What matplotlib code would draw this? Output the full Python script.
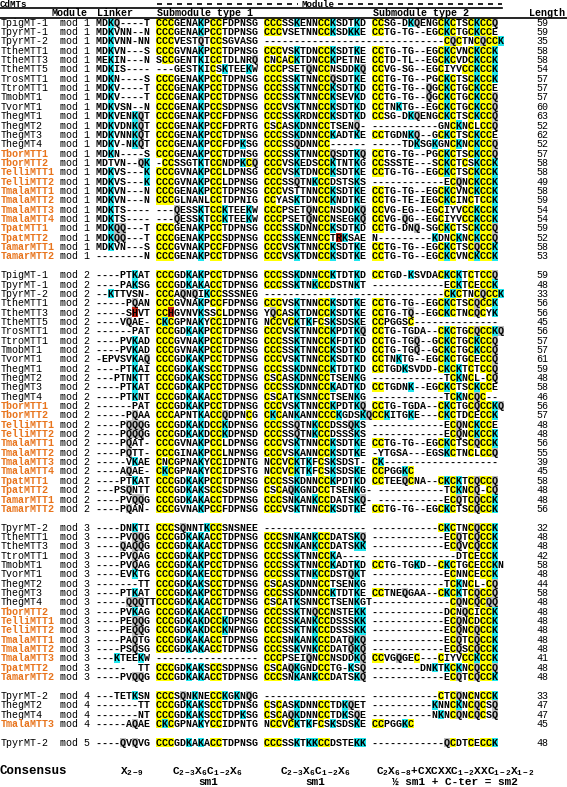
import matplotlib
matplotlib.use("Agg")
import matplotlib.pyplot as plt
from matplotlib.patches import Rectangle

# aligned rows: linker | submodule type 1 (two halves) | submodule type 2
# lowercase letter = residue marked in red
names_mod1 = ["TpigMT-1", "TpyrMT-1", "TpyrMT-2", "TtheMTT1", "TtheMTT3", "TtheMTT5",
              "TrosMTT1", "TtroMTT1", "TmobMT1", "TvorMT1", "ThegMT1", "ThegMT2",
              "ThegMT3", "ThegMT4", "TborMTT1", "TborMTT2", "TelliMTT1", "TelliMTT2",
              "TmalaMTT1", "TmalaMTT2", "TmalaMTT3", "TmalaMTT4", "TpatMTT1", "TpatMTT2",
              "TamarMTT1", "TamarMTT2"]
seqs_mod1 = [
    "MDKQ----T CCCGENAKPCCFDPNSG CCCSSKENNCCKSDTKD CCSG-DKQENGCKCTSCKCCQ",
    "MDKVNN--N CCCGENAKPCCTDPNSG CCCVSETNNCCKSDKKE CCTG-TG--EGCKCTGCKCCE",
    "MDKVNN-NN CCCVESTQTCCSGVASG ------------------------------CQCTNCQCCK",
    "MDKVN---S CCCGVNAKPCCTDPNSG CCCVSKTDNCCKSDTKE CCTG-TG--EGCKCVNCKCCK",
    "MEKIN---N SCCGENTKICCTDLNRQ CNCACKTDNCCKPETNE CCTD-TL--EGCKCVDCKCCK",
    "MDKIS---- ---GESTKICSKTEEKW CCCPSETQNCCNSDDKQ CCVG-SG--EGCIYVCCKCCK",
    "MDKN----S CCCGENAKPCCTDPNSG CCCSSKTNNCCQSDTKE CCTG-TG--PGCKCTSCKCCK",
    "MDKV----T CCCGENAKPCCTDPNSG CCCSSKTNNCCKSDTKD CCTG-TG--QGCKCTGCKCCE",
    "MDKV----T CCCGENAKPCCTDPNSG CCCSSKTNNCCKSEVKD CCTG-TG--QGCKCTGCKCCQ",
    "MDKVSN--N CCCGENAKPCCSDPNSG CCCVSKTNNCCKSDTKD CCTNKTG--EGCKCTGCKCCQ",
    "MDKVENKQT CCCGENAKPCCFDPNSG CCCSSKRDNCCKSDTKD CCSG-DKQENGCKCTSCKCCQ",
    "MDKVDNKQT CCCGENAKPCCFDPRTG CSCASKDNNCCTSENQ- -----------GNCKNCLCCQ",
    "MDKVNNKQT CCCGENAKPCCTDPNSG CCCSSKDNNCCKADTKE CCTGDNKQ--GCKCTSCKCCE",
    "MDKV-NKQT CCCGENAKPCCFDPKSG CCCSSQDNNCC------ -----TDKSGKGNCKNCKCCQ",
    "MDKN----S CCCGENAKPCCTDPNSG CCCSSKTNNCCQSDTKQ CCTG-TG--PGCKCTSCKCCQ",
    "MDTVN--QK -CCSSGTKTCCNDPKCQ CCCVSKEDSCCKTNTKG CCSSSTE---SCKCTCSKCCK",
    "MDKVS---K CCCGVNAKPCCLDPNSG CCCVSKTDNCCKSDTKE CCTG-TG--EGCKCTSCKCCK",
    "MDKVS---K CCCGVNAKPCCLDPNSG CCCSSQTNKCCDSTSKS ------------ECQNCKCCK",
    "MDKVN---N CCCGENAKPCCTDPNSG CCCVSTTNNCCKSDTKE CCTG-TG--EGCKCVNCKCCK",
    "MDKVN---N CCCGLNANLCCTDPNIG CCYASKTDNCCKNDTKE CCTG-TE-IEGCKCINCTCCK",
    "MDKTS---- ---QESSKTCCKTEEKW CCCPSETQNCCNSDDKQ CCVG-EG--EGCIYVCCKCCK",
    "MDKTS---- ---QESSKTCCKTEEKW CCCPSETQNCCNSEGKQ CCVG-QG--EGCIYVCCKCCK",
    "MDKQQ---T CCCGENAKPCCTDPNSG CCCSSKDNNCCKSDTKD CCTG-DNQ-SGCKCTSCKCCQ",
    "MDKQQ---T CCCGENAKPCCSDPNSG CCCSSKENNCCTrKSAE N---------KDNCKNCKCCQ",
    "MDKVN---S CCCGVNAKPCCFDPNSG CCCVSKTNNCCKSDTKE CCTG-TG--EGCKCTSCQCCK",
    "--------N CCCGENAKPCCTDPNSG CCCVSKTDNCCKSDTKE CCTG-TG--EGCKCVNCKCCK",
]
lengths_mod1 = [59, 59, 35, 58, 58, 54, 57, 57, 57, 60, 63, 52, 62, 52, 57, 58, 58, 49,
                58, 59, 54, 54, 59, 52, 58, 53]

names_mod2 = list(names_mod1)
seqs_mod2 = [
    "----PTKAT CCCGDKAKPCCTDPNSG CCCSSKDNNCCKTDTKD CCTGD-KSVDACKCKTCTCCQ",
    "----PAKSG CCCGDKAKACCTDPNSG CCCSSKTNKCCDSTNKT ------------ECKTCECCK",
    "--KTTVSN- CCCAQNQIKCCSSSNEG ------------------------------CKCTNCQCCK",
    "-----PQAN CCCGVNAKPCCFDPNSG CCCVSKTNNCCKSDTKE CCTG-TG--EGCKCTSCQCCK",
    "-----ShVT CChGVNVKSSCLDPNSG YQCASKTDNCCKSDTKE CCTG-TQ--EGCKCTNCQCYK",
    "----VQAE- CKCGPNAKYCCIDPNTG NCCVCKTKFCSKSDSKE CCPGGSC--------------",
    "------PAT CCCGDKAKPCCTDPNSG CCCVSKTNNCCKPDTKQ CCTG-TGDA--CKCTGCQCCKQ",
    "----PVKAD CCCGVNAKPCCTDPNSG CCCSSKTNNCCKFDTKD CCTG-TGQ--GCKCTGCKCCQ",
    "----PVKAD CCCGVNAKPCCTDPNSG CCCSSKTNNCCKSDTKD CCTG-TGQ--GCKCTGCKCCQ",
    "-EPVSVKAQ CCCGDKAKPCCTDPNSG CCCVSKTNNCCKSDTKD CCTNKTG--EGCKCTGCECCQ",
    "----PTKAI CCCGDKAKSCCTDPNSG CCCSSKDNNCCKTDTKD CCTGDKSVDD-CKCKTCTCCQ",
    "---PTNKTT CCCGDKAKSCCTDPNSG CSCASKDNNCCTSENKG ------------TCKNCL-CQ",
    "----PTKAT CCCGDKAKPCCTDPNSG CCCSSKDNNCCKADTKD CCTGDNK--EGCKCTSCKCCE",
    "----PTKNT CCCGDKAKACCTDPNSG CSCATKSNNCCTSENKG ------------TCKNCQC--",
    "------PAT CCCGDKAKPCCTDPNSG CCCVSKTNNCCKPDTKQ CCTG-TGDA--CKCTGCQCCKQ",
    "-----PQAA CCCAPNTKACCQDPNCG CKCANKANNCCCKGDSKQCCKITGKE---CKCTDCECCK",
    "----PQQQG CCCGDKAKDCCKDPNSG CCCSSQTNKCCDSSQKS ------------ECQNCKCCE",
    "----PQQQG CCCGDKAKDCCKDPNSD CCCSSQTNKCCDSSSKS ------------ECQNCKCCK",
    "----PQAT- CCCGVNAKPCCLDPNSG CCCVSKTNNCCKSDTKE CCTG-TG--EGCKCTSCQCCK",
    "----PQTT- CCCGINAKPCCLNPNSG CCCVSKANNCCKSDTKE -YTGSA---EGSKCTNCLCCQ",
    "-----VKAE CNCGPNAKYCCIDPNTG NCCVCKTKFCSKSDST- CK-------------------",
    "----AQAE- CKCGPNAKYCCIDPSTG NCCVCKTKFCSKSDSKE CCPGGKC",
    "----PTKAT CCCGDKAKPCCTDPNSG CCCSSKDNNCCKPDTKD CCTEEQCNA--CKCKTCQCCQ",
    "---PSQNTT CCCGDKAKSCCSDPNSG CSCAQKGNDCCTSENKG- -----------TCKNCQ-CQ",
    "----PVQQG CCCGDKAKACCTDPNSG CCCSNKANKCCDATSKQ- -----------ECQTCQCCK",
    "----PQAN- CCCGVNAKPCCFDPNSG CCCVSKTNNCCKSDTKE CCTG-TG--EGCKCTSCQCCK",
]
lengths_mod2 = [59, 48, 33, 56, 56, 45, 56, 57, 57, 61, 59, 48, 58, 46, 56, 57, 48, 48,
                56, 55, 39, 45, 58, 48, 48, 56]

names_mod3 = ["TpyrMT-2", "TtheMTT1", "TtheMTT3", "TtroMTT1", "TmobMT1", "TvorMT1",
              "ThegMT2", "ThegMT3", "ThegMT4", "TborMTT2", "TelliMTT1", "TelliMTT2",
              "TmalaMTT1", "TmalaMTT2", "TmalaMTT3", "TpatMTT2", "TamarMTT2"]
seqs_mod3 = [
    "----DNKTI CCCSQNNTKCCSNSNEE ----------------- -----------CKCTNCQCCK",
    "----PVQQG CCCGDKAKACCTDPNSG CCCSNKANKCCDATSKQ ------------ECQTCQCCK",
    "----QAQQG CCCGDKAKACCTDPNSG CCCSNKANKCCDATSKK ------------ECQVCQCCK",
    "----PVQAG CCCGDKAKPCCTDPNSG CCCSSKTNNCCKA---- --------------DTCECCK",
    "----PVQAG CCCGDKAKPCCTDPNSG CCCSSKTNNCCKADTKD CCTG-TGKD--CKCTGCECCKN",
    "----EVKTG CCCGDKAKECCTDPNSG CCCSSKTNKCCDSTQKT ------------ECNNCECCK",
    "-------TT CCCGDKAKSCCTDPNSG CSCASKDNNCCTSENKG ------------TCKNCL-CQ",
    "----PTKAT CCCGDKAKPCCTDPNSG CCCSSKDNNCCKTDTKE CCTNEQGAA--CKCKTCQCCQ",
    "-----QQQTTCCCGDKAKACCTDPNSG CSCATKSNNCCTSENKGT-------------CQNCQCQQ",
    "----PVKAG CCCGDKAKACCTDPNSG CCCSSKTNQCCNSTEKK ------------DCNQCICCK",
    "----PEQQG CCCGDKAKDCCKDPNSG CCCSSKANKCCDSSSKK ------------ECQNCDCCK",
    "----PEQQG CCCGDKAKDCCKNPNGG CCCSSKTNKCCDSSSKK ------------ECQNCQCCK",
    "----PAQTG CCCGDKAKACCTDPNSG CCCSNKANKCCDATQKQ ------------ECQTCQCCK",
    "----PSQSG CCCGDKAKACCTDPNSG CCCSSKVNKCCDATQKQ ------------ECQSCQCCK",
    "---KTEEKW ----------------- CCCPSEIQNCCNSDDKQ CCVGQGEC---CIYVCCKCCK",
    "-----  TT CCCGDKAKSCCSDPNSG CSCAQKGNDCCTG-KSQ --------DNKTKCKNCQCCQ",
    "----PVQQG CCCGDKAKACCTDPNSG CCCSNKANKCCDATSKQ ------------ECQTCQCCK",
]
lengths_mod3 = [32, 48, 48, 42, 58, 48, 44, 58, 48, 48, 48, 48, 48, 48, 41, 48, 48]

names_mod4 = ["TpyrMT-2", "ThegMT2", "ThegMT4", "TmalaMTT3"]
seqs_mod4 = [
    "---TETKSN CCCSQNKNECCKGKNQG ----------------- -----------CTCQNCNCCK",
    "-------TT CCCGDKAKSCCTDPNSG CSCASKDNNCCTDKQET ----------KNNCKNCQCSQ",
    "-------NT CCCGDKAKSCCTDPKSG CSCAQKDNNCCTDKSQE ----------NKNCQNCQCSQ",
    "-----AQAE CKCGPNAKYCCIDPNTG NCCVCKTKFCSKSDSKE CCPGGKC",
]
lengths_mod4 = [33, 47, 47, 45]

names_mod5 = ["TpyrMT-2"]
seqs_mod5 = ["----QVQVG CCCGDKAKACCTDPNSG CCCSSKTKKCCDSTEKK ------------QCDTCECCK"]
lengths_mod5 = [48]

blocks = [(1, names_mod1, seqs_mod1, lengths_mod1),
          (2, names_mod2, seqs_mod2, lengths_mod2),
          (3, names_mod3, seqs_mod3, lengths_mod3),
          (4, names_mod4, seqs_mod4, lengths_mod4),
          (5, names_mod5, seqs_mod5, lengths_mod5)]

ORANGE_NAMES = ("Tbor", "Telli", "Tmala", "Tpat", "Tamar")
SHADE = {"C": "#ffff00", "K": "#1ee6ee", "Q": "#bdbdbd"}
RED = "#c42010"
ORANGE = "#e8741c"

plt.rcParams["mathtext.fontset"] = "custom"
plt.rcParams["mathtext.rm"] = "Liberation Mono:bold"
plt.rcParams["mathtext.it"] = "Liberation Mono:bold"
plt.rcParams["mathtext.bf"] = "Liberation Mono:bold"

W, H = 567, 787
fig = plt.figure(figsize=(W / 100, H / 100), dpi=100)
ax = fig.add_axes([0, 0, 1, 1])
ax.set_xlim(0, W)
ax.set_ylim(H, 0)
ax.axis("off")

FONT = "Liberation Mono"
FS = 7.2          # 10 px -> 6 px per character
CW = 6.0
ROW = 9.35
Y0 = 22.3
X_SEQ = 96
BASE = 3.4

row = 0
for mod, names, seqs, lengths in blocks:
    for name, seq, length in zip(names, seqs, lengths):
        y = Y0 + row * ROW
        for i, ch in enumerate(seq):
            col = RED if ch.islower() else SHADE.get(ch)
            if col:
                ax.add_patch(Rectangle((X_SEQ + i * CW, y - ROW / 2), CW, ROW,
                                       fc=col, ec="none", lw=0))
        orange = name.startswith(ORANGE_NAMES)
        ax.text(1, y + BASE, name, family=FONT, size=FS,
                color=ORANGE if orange else "black",
                weight="bold" if orange else "normal")
        ax.text(60, y + BASE, f"mod {mod}", family=FONT, size=FS)
        ax.text(X_SEQ, y + BASE, seq.upper(), family=FONT, size=FS, weight="bold")
        ax.text(548, y + BASE, str(length), family=FONT, size=FS, ha="right")
        row += 1
    row += 1

# header
ax.text(0, 0.3, "CdMTs", family=FONT, size=6.6, weight="bold", va="top")
# dashed bracket with the "Module" label
ax.plot([157, 298], [3.6, 3.6], color="black", lw=1.2, ls=(0, (3, 3)))
ax.plot([338, 502], [3.6, 3.6], color="black", lw=1.2, ls=(0, (3, 3)))
ax.text(318, 0.3, "Module", family=FONT, size=6.6, weight="bold", va="top", ha="center")
ax.plot([0, 502], [8.4, 8.4], color="black", lw=1.2)
hdr_y = 15.6
ax.text(52, hdr_y, "Module", family=FONT, size=FS, weight="bold")
ax.text(97, hdr_y, "Linker", family=FONT, size=FS, weight="bold")
ax.text(157, hdr_y, "Submodule type 1", family=FONT, size=FS, weight="bold")
ax.text(373, hdr_y, "Submodule type 2", family=FONT, size=FS, weight="bold")
ax.text(529, hdr_y, "Length", family=FONT, size=FS, weight="bold")
ax.plot([0, W], [17.9, 17.9], color="black", lw=1.2)

# consensus footer
fy = 774
sy = 785
ax.text(0, fy, "Consensus", family=FONT, size=9, weight="bold")
ax.text(132, fy, r"X$_{2-9}$", family=FONT, size=8, weight="bold", ha="center")
ax.text(207, fy, r"C$_{2-3}$X$_6$C$_{1-2}$X$_6$", family=FONT, size=8, weight="bold", ha="center")
ax.text(208, sy, "sm1", family=FONT, size=8, weight="bold", ha="center")
ax.text(315, fy, r"C$_{2-3}$X$_6$C$_{1-2}$X$_6$", family=FONT, size=8, weight="bold", ha="center")
ax.text(315, sy, "sm1", family=FONT, size=8, weight="bold", ha="center")
ax.text(455, fy, r"C$_2$X$_{6-8}$+CXCXXC$_{1-2}$XXC$_{1-2}$X$_{1-2}$", family=FONT, size=8,
        weight="bold", ha="center")
ax.text(455, sy, "\u00bd sm1 + C-ter = sm2", family=FONT, size=8, weight="bold", ha="center")

fig.savefig("out.png", dpi=100)
